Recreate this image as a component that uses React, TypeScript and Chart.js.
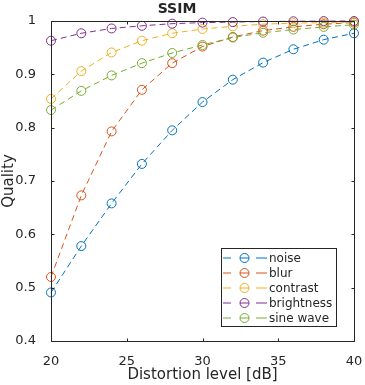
import React, { useEffect, useRef } from "react";
import { Chart, registerables } from "chart.js";

Chart.register(...registerables);

const distortionLevels = [20, 22, 24, 26, 28, 30, 32, 34, 36, 38, 40];
const noise = [0.491, 0.578, 0.658, 0.732, 0.795, 0.848, 0.89, 0.922, 0.947, 0.965, 0.977];
const blur = [0.52, 0.673, 0.793, 0.871, 0.921, 0.952, 0.97, 0.982, 0.989, 0.994, 0.997];
const contrast = [0.854, 0.906, 0.941, 0.963, 0.977, 0.985, 0.99, 0.994, 0.996, 0.997, 0.998];
const brightness = [0.963, 0.977, 0.986, 0.991, 0.995, 0.997, 0.998, 0.999, 0.9995, 0.9998, 1.0];
const sineWave = [0.833, 0.869, 0.898, 0.921, 0.94, 0.955, 0.969, 0.978, 0.984, 0.989, 0.993];

const seriesNames = ["noise", "blur", "contrast", "brightness", "sine wave"];
const seriesValues = [noise, blur, contrast, brightness, sineWave];
const seriesColors = ["#0072BD", "#D95319", "#EDB120", "#7E2F8E", "#77AC30"];

const titleText = "SSIM";
const xTitle = "Distortion level [dB]";
const yTitle = "Quality";

const FONT = "'DejaVu Sans', sans-serif";
const TEXT_COLOR = "#262626";

const boxPlugin = {
  id: "matlabBox",
  afterDraw(chart: any) {
    const { ctx, chartArea } = chart;
    const l = Math.round(chartArea.left) + 0.5;
    const r = Math.round(chartArea.right) + 0.5;
    const t = Math.round(chartArea.top) + 0.5;
    const b = Math.round(chartArea.bottom) + 0.5;
    const tl = 3;
    ctx.save();
    ctx.strokeStyle = TEXT_COLOR;
    ctx.lineWidth = 1;
    ctx.beginPath();
    ctx.rect(l, t, r - l, b - t);
    const xs = chart.scales.x;
    const ys = chart.scales.y;
    xs.ticks.forEach((tk: any) => {
      const px = Math.round(xs.getPixelForValue(tk.value)) + 0.5;
      ctx.moveTo(px, b);
      ctx.lineTo(px, b - tl);
      ctx.moveTo(px, t);
      ctx.lineTo(px, t + tl);
    });
    ys.ticks.forEach((tk: any) => {
      const py = Math.round(ys.getPixelForValue(tk.value)) + 0.5;
      ctx.moveTo(l, py);
      ctx.lineTo(l + tl, py);
      ctx.moveTo(r, py);
      ctx.lineTo(r - tl, py);
    });
    ctx.stroke();
    ctx.restore();
  },
};

const legendPlugin = {
  id: "matlabLegend",
  afterDraw(chart: any) {
    const { ctx, chartArea } = chart;
    const boxR = Math.round(chartArea.right) - 17.5;
    const boxB = Math.round(chartArea.bottom) - 14.5;
    const boxW = 115;
    const rowH = 15;
    const boxH = rowH * seriesNames.length + 3;
    const boxL = boxR - boxW;
    const boxT = boxB - boxH;
    ctx.save();
    ctx.fillStyle = "#ffffff";
    ctx.fillRect(boxL, boxT, boxW, boxH);
    ctx.strokeStyle = TEXT_COLOR;
    ctx.lineWidth = 1;
    ctx.strokeRect(boxL, boxT, boxW, boxH);
    ctx.font = `12px ${FONT}`;
    ctx.textBaseline = "middle";
    ctx.textAlign = "left";
    seriesNames.forEach((name, i) => {
      const cy = boxT + 9.5 + i * rowH;
      const x0 = boxL + 1.5;
      ctx.strokeStyle = seriesColors[i];
      ctx.lineWidth = 1;
      ctx.beginPath();
      ctx.moveTo(x0, cy);
      ctx.lineTo(x0 + 8, cy);
      ctx.moveTo(x0 + 17, cy);
      ctx.lineTo(x0 + 26, cy);
      ctx.moveTo(x0 + 33, cy);
      ctx.lineTo(x0 + 44, cy);
      ctx.stroke();
      ctx.beginPath();
      ctx.arc(x0 + 21.5, cy, 4.5, 0, Math.PI * 2);
      ctx.stroke();
      ctx.fillStyle = TEXT_COLOR;
      ctx.fillText(name, x0 + 46, cy + 0.5);
    });
    ctx.restore();
  },
};

export default function App() {
  const canvasRef = useRef<HTMLCanvasElement | null>(null);

  useEffect(() => {
    if (!canvasRef.current) return;
    const datasets = seriesNames.map((name, i) => ({
      label: name,
      data: distortionLevels.map((x, j) => ({ x, y: seriesValues[i][j] })),
      borderColor: seriesColors[i],
      backgroundColor: "rgba(0,0,0,0)",
      borderWidth: 1,
      borderDash: [6, 4],
      pointRadius: 4.5,
      pointHoverRadius: 4.5,
      pointStyle: "circle",
      pointBorderColor: seriesColors[i],
      pointBackgroundColor: "rgba(0,0,0,0)",
      pointBorderWidth: 1,
      tension: 0,
      clip: false as any,
      order: seriesNames.length - i,
    }));

    const chart = new Chart(canvasRef.current, {
      type: "line",
      data: { datasets },
      options: {
        responsive: false,
        animation: false,
        events: [],
        layout: { padding: { left: 0, right: 11, top: 0, bottom: 0 } },
        plugins: {
          legend: { display: false },
          tooltip: { enabled: false },
          title: {
            display: true,
            text: titleText,
            color: TEXT_COLOR,
            font: { family: FONT, size: 14, weight: "bold" },
            padding: { top: 1, bottom: 3.2 },
          },
        },
        scales: {
          x: {
            type: "linear",
            min: 20,
            max: 40,
            ticks: {
              stepSize: 5,
              color: TEXT_COLOR,
              font: { family: FONT, size: 13 },
              padding: 5,
              maxRotation: 0,
            },
            grid: { display: false },
            border: { display: false },
            title: {
              display: true,
              text: xTitle,
              color: TEXT_COLOR,
              font: { family: FONT, size: 15 },
              padding: { top: 0, bottom: 1 },
            },
            afterFit: (scale: any) => {
              scale.height = 44;
              scale.paddingLeft = 0;
              scale.paddingRight = 0;
            },
          },
          y: {
            type: "linear",
            min: 0.4,
            max: 1,
            ticks: {
              stepSize: 0.1,
              color: TEXT_COLOR,
              font: { family: FONT, size: 13 },
              padding: 7,
              callback: (v: any) => String(Number(Number(v).toFixed(1))),
            },
            grid: { display: false },
            border: { display: false },
            title: {
              display: true,
              text: yTitle,
              color: TEXT_COLOR,
              font: { family: FONT, size: 15 },
              padding: { top: 0, bottom: 0 },
            },
            afterFit: (scale: any) => {
              scale.width = 51;
              scale.paddingTop = 0;
              scale.paddingBottom = 0;
            },
          },
        },
      },
      plugins: [boxPlugin, legendPlugin],
    });
    return () => chart.destroy();
  }, []);

  return (
    <div style={{ position: "absolute", left: 0, top: 0, width: 365, height: 385, background: "#fff" }}>
      <canvas ref={canvasRef} width={365} height={385} />
    </div>
  );
}
